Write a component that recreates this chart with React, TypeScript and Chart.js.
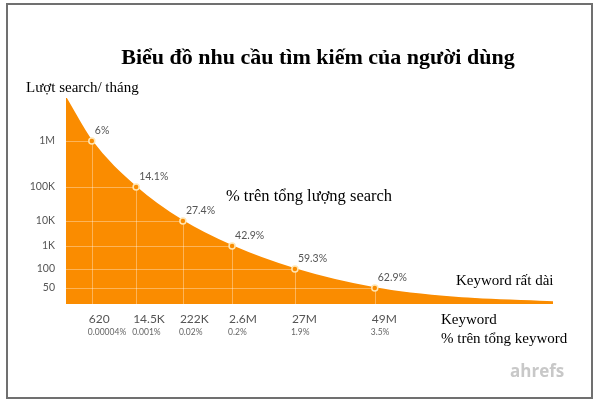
import React, { useEffect, useRef } from 'react';
import { Chart, registerables } from 'chart.js';

Chart.register(...registerables);

// ---- data ----
const searchVolume = [8.6e6, 1e6, 1e5, 1e4, 1e3, 100, 50, 20, 6];
const keywordRankPos = [0, 5.3, 14.4, 24.0, 34.1, 47.0, 63.4, 80, 100];
const searchShareLabels = ['', '6%', '14.1%', '27.4%', '42.9%', '59.3%', '62.9%', '', ''];

const keywordTickPos = [5.3, 14.4, 24.0, 34.1, 47.0, 63.4];
const keywordCountLabels = ['620', '14.5K', '222K', '2.6M', '27M', '49M'];
const keywordShareLabels = ['0.00004%', '0.001%', '0.02%', '0.2%', '1.9%', '3.5%'];

const yTickValues = [50, 100, 1000, 10000, 100000, 1000000];
const yTickLabels = ['50', '100', '1K', '10K', '100K', '1M'];
// irregular log-like axis: level of each tick on the vertical axis
const yTickLevels = [16, 35, 58, 83, 117, 163];
const Y_MAX = 206;

const ORANGE = '#FA8C00';

function levelOf(v: number): number {
  const xs = [0, ...yTickValues];
  const ls = [0, ...yTickLevels];
  if (v <= xs[1]) return (v / xs[1]) * ls[1];
  for (let i = 1; i < xs.length - 1; i++) {
    if (v <= xs[i + 1]) {
      const t = (Math.log10(v) - Math.log10(xs[i])) / (Math.log10(xs[i + 1]) - Math.log10(xs[i]));
      return ls[i] + t * (ls[i + 1] - ls[i]);
    }
  }
  const n = xs.length - 1;
  const t = (Math.log10(v) - Math.log10(xs[n])) / (Math.log10(xs[n]) - Math.log10(xs[n - 1]));
  return ls[n] + t * (ls[n] - ls[n - 1]);
}

const overlayPlugin = {
  id: 'overlay',
  beforeDatasetsDraw(chart: any) {
    const { ctx, chartArea, scales } = chart;
    ctx.save();
    ctx.strokeStyle = 'rgba(255,255,255,0.35)';
    ctx.lineWidth = 1;
    for (const lv of yTickLevels) {
      const y = Math.round(scales.y.getPixelForValue(lv)) + 0.5;
      ctx.beginPath();
      ctx.moveTo(chartArea.left, y);
      ctx.lineTo(chartArea.right, y);
      ctx.stroke();
    }
    for (const p of keywordTickPos) {
      const x = Math.round(scales.x.getPixelForValue(p)) + 0.5;
      ctx.beginPath();
      ctx.moveTo(x, chartArea.top);
      ctx.lineTo(x, chartArea.bottom);
      ctx.stroke();
    }
    ctx.restore();
  },
  afterDatasetsDraw(chart: any) {
    const { ctx } = chart;
    const meta = chart.getDatasetMeta(0);
    ctx.save();
    ctx.font = '10.5px Lato';
    ctx.fillStyle = '#555';
    ctx.textAlign = 'left';
    ctx.textBaseline = 'middle';
    searchShareLabels.forEach((lab, i) => {
      if (!lab) return;
      const pt = meta.data[i];
      ctx.fillText(lab, pt.x + 3, pt.y - 10);
    });
    ctx.restore();
  },
};

export default function App() {
  const ref = useRef<HTMLCanvasElement>(null);

  useEffect(() => {
    if (!ref.current) return;
    const chart = new Chart(ref.current, {
      type: 'line',
      data: {
        datasets: [
          {
            data: searchVolume.map((v, i) => ({ x: keywordRankPos[i], y: levelOf(v) })),
            fill: 'origin',
            backgroundColor: ORANGE,
            borderColor: ORANGE,
            borderWidth: 1.5,
            cubicInterpolationMode: 'monotone',
            pointRadius: searchShareLabels.map((s) => (s ? 3 : 0)),
            pointBackgroundColor: ORANGE,
            pointBorderColor: '#FFE6B3',
            pointBorderWidth: 1.5,
          },
        ],
      },
      options: {
        responsive: false,
        animation: false,
        devicePixelRatio: 1,
        events: [],
        layout: { padding: { left: 0, right: 47, top: 98, bottom: 60 } },
        plugins: {
          legend: { display: false },
          tooltip: { enabled: false },
          filler: { drawTime: 'beforeDatasetsDraw' },
        },
        scales: {
          x: {
            type: 'linear',
            min: 0,
            max: 100,
            position: 'bottom',
            weight: 0,
            grid: { display: false, drawTicks: false },
            border: { display: false },
            afterBuildTicks: (s: any) => {
              s.ticks = keywordTickPos.map((v) => ({ value: v }));
            },
            afterFit: (s: any) => {
              s.height = 22;
            },
            ticks: {
              autoSkip: false,
              maxRotation: 0,
              align: 'start',
              labelOffset: -3,
              padding: 8,
              font: { family: 'Lato', size: 12 },
              color: '#555',
              callback: (_v: any, i: number) => keywordCountLabels[i],
            },
          },
          x2: {
            type: 'linear',
            min: 0,
            max: 100,
            position: 'bottom',
            weight: 1,
            grid: { display: false, drawTicks: false },
            border: { display: false },
            afterBuildTicks: (s: any) => {
              s.ticks = keywordTickPos.map((v) => ({ value: v }));
            },
            afterFit: (s: any) => {
              s.height = 16;
            },
            ticks: {
              autoSkip: false,
              maxRotation: 0,
              align: 'start',
              labelOffset: -4,
              padding: 1,
              font: { family: 'Lato', size: 8.5 },
              color: '#666',
              callback: (_v: any, i: number) => keywordShareLabels[i],
            },
          },
          y: {
            type: 'linear',
            min: 0,
            max: Y_MAX,
            grid: { display: false, drawTicks: false },
            border: { display: false },
            afterBuildTicks: (s: any) => {
              s.ticks = yTickLevels.map((v) => ({ value: v }));
            },
            afterFit: (s: any) => {
              s.width = 66;
            },
            ticks: {
              padding: 11,
              font: { family: 'Lato', size: 10.5 },
              color: '#555',
              callback: (_v: any, i: number) => yTickLabels[i],
            },
          },
        },
      } as any,
      plugins: [overlayPlugin],
    });
    return () => chart.destroy();
  }, []);

  const serif = '"Liberation Serif", "Times New Roman", serif';
  const txt = (extra: React.CSSProperties): React.CSSProperties => ({
    position: 'absolute',
    whiteSpace: 'nowrap',
    fontFamily: serif,
    color: '#000',
    ...extra,
  });

  return (
    <div style={{ position: 'absolute', left: 0, top: 0, width: 600, height: 402, background: '#fff', overflow: 'hidden' }}>
      <canvas ref={ref} width={600} height={402} style={{ position: 'absolute', left: 0, top: 0, width: 600, height: 402 }} />
      <div
        style={{
          position: 'absolute',
          left: 6,
          top: 3,
          width: 587,
          height: 396,
          border: '2px solid #707070',
          boxSizing: 'border-box',
        }}
      />
      <div style={txt({ left: 318, top: 46, transform: 'translateX(-50%)', fontSize: 22, lineHeight: '22px', fontWeight: 'bold' })}>
        Biểu đồ nhu cầu tìm kiếm của người dùng
      </div>
      <div style={txt({ left: 26, top: 80, fontSize: 15, lineHeight: '15px' })}>Lượt search/ tháng</div>
      <div style={txt({ left: 226, top: 188, fontSize: 16.5, lineHeight: '16.5px' })}>% trên tổng lượng search</div>
      <div style={txt({ left: 456, top: 273, fontSize: 15, lineHeight: '15px' })}>Keyword rất dài</div>
      <div style={txt({ left: 441, top: 312, fontSize: 15, lineHeight: '15px' })}>Keyword</div>
      <div style={txt({ left: 441, top: 331, fontSize: 15, lineHeight: '15px' })}>% trên tổng keyword</div>
      <div
        style={{
          position: 'absolute',
          left: 510,
          top: 362,
          fontFamily: '"Open Sans", sans-serif',
          fontWeight: 'bold',
          fontSize: 17,
          lineHeight: '17px',
          color: '#c8c8c8',
          whiteSpace: 'nowrap',
        }}
      >
        ahrefs
      </div>
    </div>
  );
}
